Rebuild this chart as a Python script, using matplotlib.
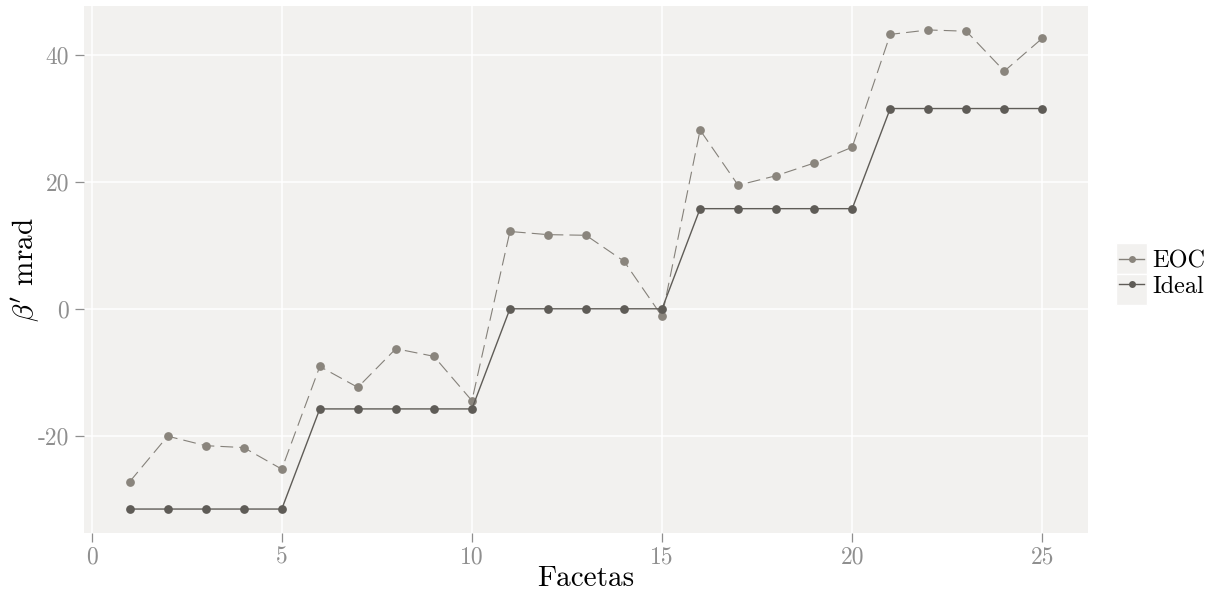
import matplotlib
matplotlib.use("Agg")
import matplotlib.pyplot as plt
from matplotlib.lines import Line2D
from matplotlib.patches import Rectangle

# Data
facetas = list(range(1, 26))
eoc = [-27.3, -20.1, -21.6, -21.9, -25.3,
       -9.1, -12.4, -6.3, -7.5, -14.5,
       12.2, 11.7, 11.6, 7.5, -1.2,
       28.2, 19.5, 21.0, 23.0, 25.5,
       43.3, 44.0, 43.8, 37.5, 42.7]
ideal = [-31.6] * 5 + [-15.8] * 5 + [0.0] * 5 + [15.8] * 5 + [31.6] * 5
series_labels = ["EOC", "Ideal"]
x_ticks = [0, 5, 10, 15, 20, 25]
y_ticks = [-20, 0, 20, 40]
y_ticklabels = ["-20", "0", "20", "40"]

# Style
plt.rcParams["font.family"] = ["cmr10", "DejaVu Serif"]
plt.rcParams["mathtext.fontset"] = "cm"
plt.rcParams["axes.formatter.use_mathtext"] = True

BG = "#f2f1ef"
EOC_COLOR = "#8a857d"
EOC_LINE = "#85817a"
IDEAL_COLOR = "#5f5c57"
TICK_COLOR = "#8f8f8f"

W, H = 1210, 595
fig = plt.figure(figsize=(W / 100, H / 100), dpi=100)
ax = fig.add_axes([84 / W, 1 - 533 / H, (1088 - 84) / W, (533 - 6) / H])
ax.set_facecolor(BG)
for s in ax.spines.values():
    s.set_visible(False)

ax.grid(True, color="white", linewidth=1.1)
ax.set_axisbelow(True)

ms = 6.3
ax.plot(facetas, eoc, color=EOC_LINE, linewidth=0.8,
        linestyle=(0, (11.5, 5.5)), zorder=2)
ax.plot(facetas, eoc, linestyle="none", marker="o", markersize=ms,
        color=EOC_COLOR, markeredgewidth=0, zorder=3)
ax.plot(facetas, ideal, color=IDEAL_COLOR, linewidth=1.0, zorder=4)
ax.plot(facetas, ideal, linestyle="none", marker="o", markersize=ms,
        color=IDEAL_COLOR, markeredgewidth=0, zorder=5)

# ggplot-like expansion of the scales
xmin, xmax = min(facetas), max(facetas)
xpad = 0.05 * (xmax - xmin)
ax.set_xlim(xmin - xpad, xmax + xpad)
ymin = min(min(eoc), min(ideal))
ymax = max(max(eoc), max(ideal))
ypad = 0.05 * (ymax - ymin)
ax.set_ylim(ymin - ypad, ymax + ypad)

ax.set_xticks(x_ticks)
ax.set_xticklabels([str(t) for t in x_ticks])
ax.set_yticks(y_ticks)
ax.set_yticklabels(y_ticklabels)
ax.tick_params(axis="both", colors=TICK_COLOR, labelcolor=TICK_COLOR,
               length=6.2, width=0.9, labelsize=17, direction="out")
ax.tick_params(axis="x", pad=3.5)
ax.tick_params(axis="y", pad=4.5)

ax.set_xlabel("Facetas", fontsize=21, color="black")
ax.xaxis.set_label_coords(0.5, -0.062)
ax.set_ylabel(r"$\beta'$ mrad", fontsize=21, color="black")
ax.yaxis.set_label_coords(-0.042, 0.5)

# Legend key backgrounds
for top in (243, 274):
    fig.patches.append(Rectangle((1116 / W, 1 - (top + 31) / H), 31 / W, 31 / H,
                                 transform=fig.transFigure, facecolor=BG,
                                 edgecolor="white", linewidth=1.0, zorder=0))

handles = [
    Line2D([], [], color=EOC_LINE, linewidth=1.0, marker="o", markersize=5,
           markerfacecolor=EOC_COLOR, markeredgewidth=0),
    Line2D([], [], color=IDEAL_COLOR, linewidth=1.0, marker="o", markersize=5,
           markerfacecolor=IDEAL_COLOR, markeredgewidth=0),
]
fig.legend(handles, series_labels, loc="center left",
           bbox_to_anchor=(1119 / W, 1 - 274 / H), frameon=False,
           fontsize=17.5, handlelength=1.03, handletextpad=0.33,
           labelspacing=0.15, borderpad=0, borderaxespad=0)

fig.savefig("out.png", dpi=100)
